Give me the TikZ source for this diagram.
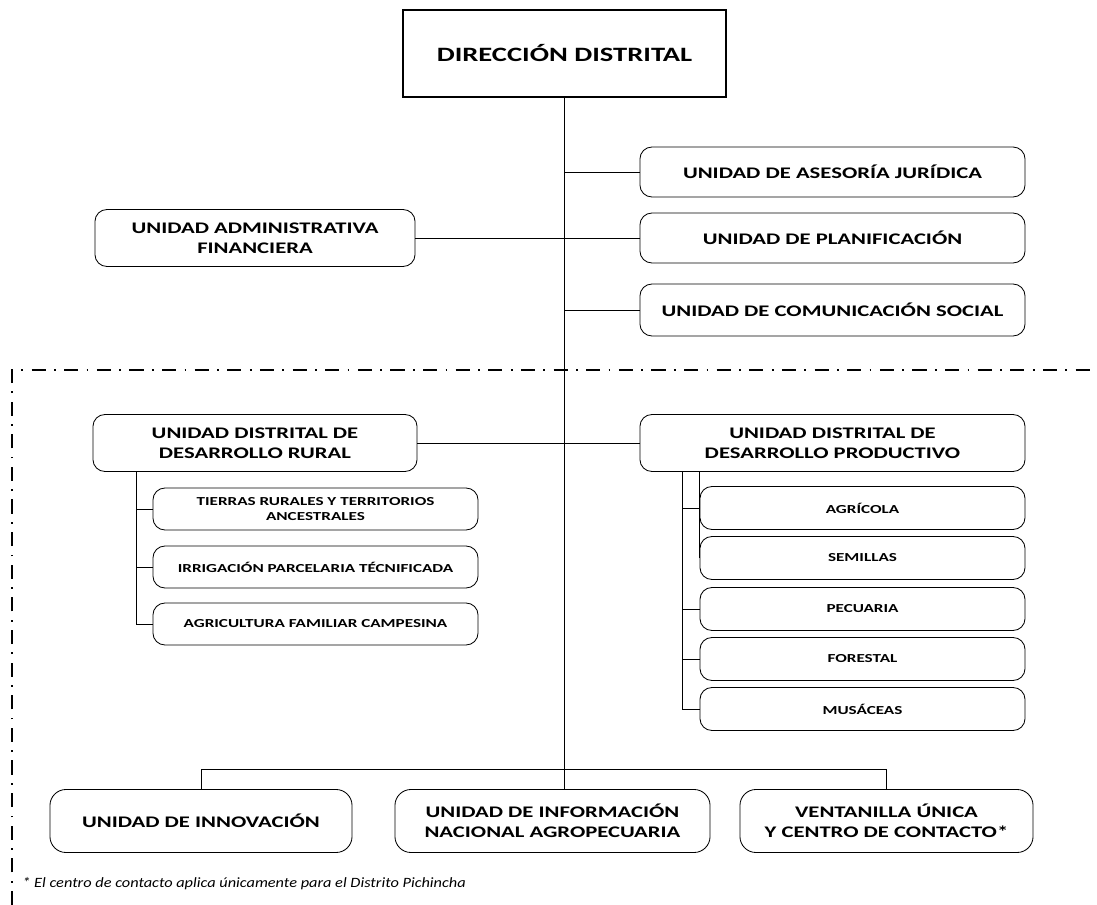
\documentclass[tikz,border=0pt]{standalone}
\usepackage{fontspec}
\setmainfont{Carlito}[FakeStretch=1.4]
\newfontfamily\notefont{Carlito}[FakeStretch=1.15]
\usepackage{tikz}
\usetikzlibrary{positioning}

\tikzset{
    unit/.style={draw, rounded corners=0.3cm, line width=0.6pt, align=center,
        font=\fontsize{11.5}{14}\selectfont\bfseries, inner sep=0pt},
    subunit/.style={unit, font=\fontsize{8.7}{10.5}\selectfont\bfseries},
    link/.style={line width=0.6pt},
    trunk/.style={line width=1.2pt}
}

\begin{document}
\begin{tikzpicture}[x=0.025cm, y=-0.025cm]
    \useasboundingbox (0,0) rectangle (1097,905);
    % Head
    \node[draw, line width=1.6pt, minimum width=8.075cm, minimum height=2.175cm,
        font=\fontsize{14.5}{17}\selectfont\bfseries] (dir) at (564.5,53.5) {DIRECCIÓN DISTRITAL};
    % Support units
    \node[unit, minimum width=9.625cm, minimum height=1.25cm] (asesoria) at (832.5,172) {UNIDAD DE ASESORÍA JURÍDICA};
    \node[unit, minimum width=9.625cm, minimum height=1.25cm] (planif) at (832.5,238) {UNIDAD DE PLANIFICACIÓN};
    \node[unit, minimum width=9.625cm, minimum height=1.3cm] (comun) at (832.5,310) {UNIDAD DE COMUNICACIÓN SOCIAL};
    \node[unit, minimum width=8cm, minimum height=1.425cm] (admin) at (255,238) {UNIDAD ADMINISTRATIVA\\FINANCIERA};
    % Frame of the district units
    \draw[line width=0.8pt, dash pattern=on 10pt off 6pt on 1.2pt off 6pt] (12,905) -- (12,370) -- (1097,370);
    % District units
    \node[unit, minimum width=8.1cm, minimum height=1.425cm] (rural) at (255,443) {UNIDAD DISTRITAL DE\\DESARROLLO RURAL};
    \node[unit, minimum width=9.625cm, minimum height=1.425cm] (product) at (832.5,443) {UNIDAD DISTRITAL DE\\DESARROLLO PRODUCTIVO};
    \node[subunit, minimum width=8.125cm, minimum height=1.05cm] (tierras) at (315.5,509) {TIERRAS RURALES Y TERRITORIOS\\ANCESTRALES};
    \node[subunit, minimum width=8.125cm, minimum height=1.05cm] (irrig) at (315.5,567) {IRRIGACIÓN PARCELARIA TÉCNIFICADA};
    \node[subunit, minimum width=8.125cm, minimum height=1.05cm] (agric) at (315.5,624) {AGRICULTURA FAMILIAR CAMPESINA};
    \node[subunit, minimum width=8.125cm, minimum height=1.075cm] (agricola) at (862.5,508) {AGRÍCOLA};
    \node[subunit, minimum width=8.125cm, minimum height=1.075cm] (semillas) at (862.5,558) {SEMILLAS};
    \node[subunit, minimum width=8.125cm, minimum height=1.075cm] (pecuaria) at (862.5,609) {PECUARIA};
    \node[subunit, minimum width=8.125cm, minimum height=1.075cm] (forestal) at (862.5,659) {FORESTAL};
    \node[subunit, minimum width=8.125cm, minimum height=1.075cm] (musaceas) at (862.5,709) {MUSÁCEAS};
    % Lower units
    \node[unit, rounded corners=0.4cm, minimum width=7.55cm, minimum height=1.575cm] (innov) at (201,821) {UNIDAD DE INNOVACIÓN};
    \node[unit, rounded corners=0.4cm, minimum width=7.875cm, minimum height=1.575cm] (info) at (552.5,821) {UNIDAD DE INFORMACIÓN\\NACIONAL AGROPECUARIA};
    \node[unit, rounded corners=0.4cm, minimum width=7.325cm, minimum height=1.575cm] (ventan) at (886.5,821) {VENTANILLA ÚNICA\\Y CENTRO DE CONTACTO*};
    % Note
    \node[anchor=base west, inner sep=0pt, font=\notefont\fontsize{10.1}{12}\selectfont\itshape] (nota) at (22,887)
        {* El centro de contacto aplica únicamente para el Distrito Pichincha};

    % Main line
    \draw[trunk] (dir.south) -- (dir.south |- info.north);
    \foreach \n in {asesoria, planif, comun}
        \draw[link] (\n.west) -- (\n.west -| dir.south);
    \draw[link] (admin.east) -- (admin.east -| dir.south);
    \draw[link] (rural.east) -- (product.west);
    % Rural branches
    \draw[link] (rural.south west) ++(44,0) coordinate (rt) -- (rt |- agric.west) -- (agric.west);
    \foreach \n in {tierras, irrig}
        \draw[link] (rt |- \n.west) -- (\n.west);
    % Productive branches
    \draw[link] (product.south west) ++(43,0) coordinate (pt) -- (pt |- musaceas.west) -- (musaceas.west);
    \foreach \n in {agricola, pecuaria, forestal}
        \draw[link] (pt |- \n.west) -- (\n.west);
    \draw[link] (semillas.west) -- (semillas.west |- product.south);
    % Lower branches
    \draw[link] (innov.north) -- ++(0,-20) -| (ventan.north);
\end{tikzpicture}
\end{document}
